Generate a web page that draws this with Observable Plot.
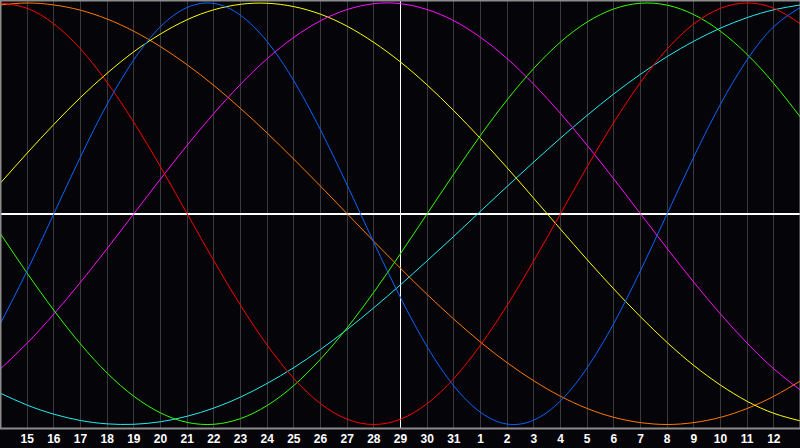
<!DOCTYPE html>
<html>
<head>
<meta charset="utf-8">
<script src="https://cdn.jsdelivr.net/npm/d3@7"></script>
<script src="https://cdn.jsdelivr.net/npm/@observablehq/plot@0.6"></script>
<style>
  html, body { margin: 0; padding: 0; background: #050409; }
  #chart svg { display: block; }
</style>
</head>
<body>
<div id="chart"></div>
<script>
// Day labels for each column index (index 0 = left edge, index 30 = right edge)
const dayLabels = [14,15,16,17,18,19,20,21,22,23,24,25,26,27,28,29,30,31,1,2,3,4,5,6,7,8,9,10,11,12,13];
const todayIndex = 15; // the white vertical line (day 29)

// Curve values, one per day column
const physical = [-0.52,-0.27,0,0.27,0.52,0.731,0.888,0.979,0.998,0.942,0.817,0.631,0.398,0.136,-0.136,-0.398,-0.631,-0.817,-0.942,-0.998,-0.979,-0.888,-0.731,-0.52,-0.27,0,0.27,0.52,0.731,0.888,0.979];
const emotional = [1,0.975,0.901,0.782,0.623,0.434,0.223,0,-0.223,-0.434,-0.623,-0.782,-0.901,-0.975,-1,-0.975,-0.901,-0.782,-0.623,-0.434,-0.223,0,0.223,0.434,0.623,0.782,0.901,0.975,1,0.975,0.901];
const intellectual = [-0.095,-0.282,-0.458,-0.618,-0.756,-0.866,-0.945,-0.99,-0.999,-0.972,-0.91,-0.815,-0.69,-0.541,-0.372,-0.189,0,0.189,0.372,0.541,0.69,0.815,0.91,0.972,0.999,0.99,0.945,0.866,0.756,0.618,0.458];
const intuitive = [-0.736,-0.614,-0.476,-0.325,-0.165,0,0.165,0.325,0.476,0.614,0.736,0.837,0.916,0.969,0.997,0.997,0.969,0.916,0.837,0.736,0.614,0.476,0.325,0.165,0,-0.165,-0.325,-0.476,-0.614,-0.736,-0.837];
const aesthetic = [0.146,0.288,0.424,0.552,0.667,0.769,0.853,0.921,0.968,0.994,0.999,0.983,0.947,0.89,0.813,0.72,0.611,0.489,0.357,0.218,0.073,-0.073,-0.218,-0.357,-0.489,-0.611,-0.72,-0.813,-0.89,-0.947,-0.983];
const awareness = [0.991,1,0.991,0.966,0.924,0.866,0.793,0.707,0.609,0.5,0.383,0.259,0.131,0,-0.131,-0.259,-0.383,-0.5,-0.609,-0.707,-0.793,-0.866,-0.924,-0.966,-0.991,-1,-0.991,-0.966,-0.924,-0.866,-0.793];
const spiritual = [-0.852,-0.908,-0.951,-0.981,-0.997,-0.999,-0.987,-0.961,-0.922,-0.87,-0.805,-0.73,-0.644,-0.549,-0.446,-0.337,-0.223,-0.107,0.012,0.13,0.246,0.359,0.467,0.569,0.662,0.746,0.819,0.881,0.931,0.968,0.991];

const seriesList = [
  {name: "spiritual", values: spiritual, color: "#22eef2"},
  {name: "awareness", values: awareness, color: "#ff7a00"},
  {name: "aesthetic", values: aesthetic, color: "#ffff00"},
  {name: "intuitive", values: intuitive, color: "#ff10ff"},
  {name: "intellectual", values: intellectual, color: "#33ff00"},
  {name: "emotional", values: emotional, color: "#ff0000"},
  {name: "physical", values: physical, color: "#0a64ff"}
];

const tickIdx = d3.range(1, dayLabels.length - 1);

const lineMarks = seriesList.map(s =>
  Plot.line(s.values.map((v, i) => ({i, v})), {
    x: "i", y: "v", stroke: s.color, strokeWidth: 1, curve: "natural"
  })
);

const chart = Plot.plot({
  width: 800,
  height: 448,
  marginTop: 0,
  marginBottom: 20,
  marginLeft: 0,
  marginRight: 0,
  style: {background: "#050409", fontFamily: "'Liberation Sans', Arial, sans-serif"},
  x: {domain: [0, dayLabels.length - 1], axis: null},
  y: {domain: [-1.019, 1.012], axis: null},
  marks: [
    Plot.ruleX(tickIdx, {stroke: "#3a3a3a", strokeWidth: 1, shapeRendering: "crispEdges"}),
    Plot.ruleY([0], {stroke: "#ffffff", strokeWidth: 1.5, shapeRendering: "crispEdges"}),
    Plot.ruleX([todayIndex], {stroke: "#ffffff", strokeWidth: 1.5, shapeRendering: "crispEdges"}),
    ...lineMarks,
    Plot.frame({stroke: "#8c8c8c", strokeWidth: 2}),
    Plot.axisX(tickIdx, {
      tickSize: 0,
      tickPadding: 6,
      tickFormat: i => String(dayLabels[i]),
      fill: "#ffffff",
      fontSize: 12,
      fontWeight: "bold",
      label: null
    })
  ]
});

document.getElementById("chart").appendChild(chart);
</script>
</body>
</html>
